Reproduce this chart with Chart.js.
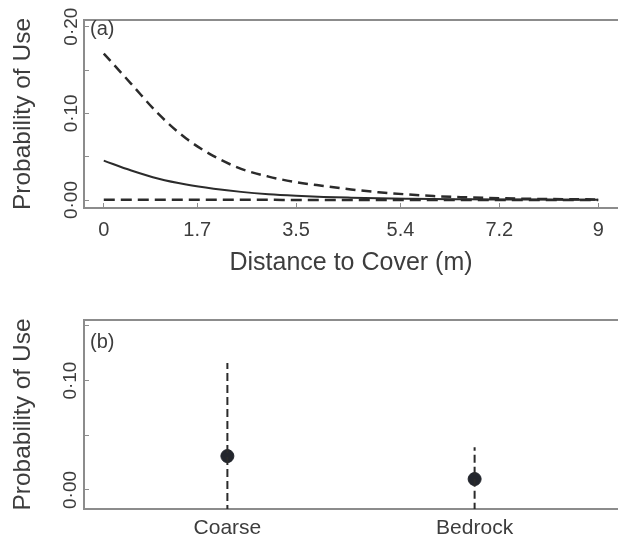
<!DOCTYPE html>
<html>
<head>
<meta charset="utf-8">
<script src="https://cdn.jsdelivr.net/npm/chart.js@4"></script>
<style>
  body { margin: 0; background: #fff; }
  #wrap { position: relative; width: 618px; height: 539px; }
  #painelA { position: absolute; left: 0; top: 0; }
  #painelB { position: absolute; left: 0; top: 290px; }
</style>
</head>
<body>
<div id="wrap">
  <canvas id="painelA" width="618" height="290"></canvas>
  <canvas id="painelB" width="618" height="249"></canvas>
</div>
<script>
// panel (a): probability of use vs distance to cover
const distance = [0, 0.5, 1, 1.5, 2, 2.5, 3, 3.5, 4, 4.5, 5, 5.5, 6, 6.5, 7, 7.5, 8, 8.5, 9];
const upperBand = [0.169, 0.134, 0.099, 0.071, 0.0507, 0.036, 0.027, 0.0206, 0.0162, 0.0122, 0.009, 0.0066, 0.0046, 0.0033, 0.0024, 0.0017, 0.0012, 0.0009, 0.0007];
const fitted = [0.0454, 0.034, 0.0245, 0.0178, 0.013, 0.0094, 0.0068, 0.005, 0.0036, 0.0027, 0.002, 0.0015, 0.0011, 0.0009, 0.0007, 0.0006, 0.0005, 0.0004, 0.0004];
const lowerBand = [0.0004, 0.0004, 0.0003, 0.0003, 0.0002, 0.0002, 0.0002, 0.0001, 0.0001, 0.0001, 0.0001, 0.0001, 0.0001, 0.0001, 0.0001, 0.0001, 0.0001, 0.0001, 0.0001];
const distTicks = [0, 1.7, 3.5, 5.4, 7.2, 9];
const distTickLabels = ['0', '1.7', '3.5', '5.4', '7.2', '9'];
const probTicksA = [0, 0.05, 0.10, 0.15, 0.20];
const probLabelsA = ['0·00', '', '0·10', '', '0·20'];

// panel (b): probability of use by substrate
const substrates = ['Coarse', 'Bedrock'];
const substrateMean = [0.031, 0.010];
const substrateLower = [-0.054, -0.019];
const substrateUpper = [0.116, 0.039];
const probTicksB = [0, 0.05, 0.10, 0.15];
const probLabelsB = ['0·00', '', '0·10', ''];

const fonte = '"Liberation Sans", Arial, sans-serif';
const corTexto = '#3d3d3d';
const corEixo = '#8c8c8c';
const corLinha = '#2b2b2b';

const panelLabel = {
    id: 'panelLabel',
    afterDraw(chart, args, opts) {
        const { ctx, chartArea } = chart;
        ctx.save();
        ctx.font = '20px ' + fonte;
        ctx.fillStyle = corTexto;
        ctx.textBaseline = 'middle';
        ctx.fillText(opts.text, chartArea.left + 6, chartArea.top + opts.dy);
        ctx.restore();
    }
};

// no extra side padding for the labels, the plot box is fixed
function semPadding(s) {
    s.paddingLeft = 0;
    s.paddingRight = 0;
    s.paddingTop = 0;
    s.paddingBottom = 0;
}

function eixoY(ticks, labels, min, max, pad) {
    return {
        type: 'linear', position: 'left', min: min, max: max,
        afterFit: s => { s.width = 84; semPadding(s); },
        afterBuildTicks: s => { s.ticks = ticks.map(v => ({ value: v })); },
        border: { color: corEixo, width: 2 },
        grid: { drawOnChartArea: false, tickLength: -5, color: corEixo },
        ticks: {
            autoSkip: false, minRotation: 90, maxRotation: 90, crossAlign: 'center', padding: pad,
            color: corTexto, font: { family: fonte, size: 19 },
            callback: (v, i) => labels[i]
        },
        title: {
            display: true, text: 'Probability of Use', color: corTexto,
            font: { family: fonte, size: 24.5 }, padding: { top: 9 }
        }
    };
}

function eixoTopo(min, max) {
    return {
        type: 'linear', position: 'top', min: min, max: max,
        afterFit: s => { s.height = 0; semPadding(s); },
        border: { color: corEixo, width: 2 },
        grid: { drawOnChartArea: false, drawTicks: false },
        ticks: { display: false }
    };
}

new Chart(document.getElementById('painelA'), {
    type: 'line',
    data: {
        datasets: [
            { data: distance.map((d, i) => ({ x: d, y: upperBand[i] })), borderColor: corLinha, borderWidth: 2.5, borderDash: [10, 6] },
            { data: distance.map((d, i) => ({ x: d, y: fitted[i] })), borderColor: corLinha, borderWidth: 2 },
            { data: distance.map((d, i) => ({ x: d, y: lowerBand[i] })), borderColor: corLinha, borderWidth: 2.5, borderDash: [11, 6] }
        ]
    },
    options: {
        responsive: false,
        animation: false,
        layout: { autoPadding: false, padding: { top: 20, right: 0, bottom: 0, left: 0 } },
        elements: { point: { radius: 0 }, line: { cubicInterpolationMode: 'monotone', fill: false } },
        plugins: { legend: { display: false }, tooltip: { enabled: false }, panelLabel: { text: '(a)', dy: 9.5 } },
        scales: {
            x: {
                type: 'linear', position: 'bottom', min: -0.36, max: 9.36,
                afterFit: s => { s.height = 82; semPadding(s); },
                afterBuildTicks: s => { s.ticks = distTicks.map(v => ({ value: v })); },
                border: { color: corEixo, width: 2 },
                grid: { drawOnChartArea: false, tickLength: -5, color: corEixo },
                ticks: {
                    autoSkip: false, maxRotation: 0, padding: 15,
                    color: corTexto, font: { family: fonte, size: 20 },
                    callback: (v, i) => distTickLabels[i]
                },
                title: {
                    display: true, text: 'Distance to Cover (m)', color: corTexto,
                    font: { family: fonte, size: 25 }, padding: { bottom: 12 }
                }
            },
            xTopo: eixoTopo(-0.36, 9.36),
            y: eixoY(probTicksA, probLabelsA, -0.0092, 0.2077, -2)
        }
    },
    plugins: [panelLabel]
});

const barras = substrates.map((s, i) => ({
    type: 'line',
    data: [{ x: i + 1, y: substrateLower[i] }, { x: i + 1, y: substrateUpper[i] }],
    borderColor: corLinha, borderWidth: 2, borderDash: [8, 4], pointRadius: 0
}));

new Chart(document.getElementById('painelB'), {
    type: 'scatter',
    data: {
        datasets: barras.concat([{
            type: 'scatter',
            data: substrates.map((s, i) => ({ x: i + 1, y: substrateMean[i] })),
            backgroundColor: '#23262d', borderColor: '#23262d', borderWidth: 1, pointRadius: 6.5
        }])
    },
    options: {
        responsive: false,
        animation: false,
        layout: { autoPadding: false, padding: { top: 30, right: 0, bottom: 0, left: 0 } },
        plugins: { legend: { display: false }, tooltip: { enabled: false }, panelLabel: { text: '(b)', dy: 22.5 } },
        scales: {
            x: {
                type: 'linear', position: 'bottom', min: 0.42, max: 2.58,
                afterFit: s => { s.height = 30; semPadding(s); },
                afterBuildTicks: s => { s.ticks = substrates.map((c, i) => ({ value: i + 1 })); },
                border: { color: corEixo, width: 2 },
                grid: { drawOnChartArea: false, drawTicks: false },
                ticks: {
                    autoSkip: false, maxRotation: 0, padding: 7,
                    color: corTexto, font: { family: fonte, size: 21 },
                    callback: (v, i) => substrates[i]
                }
            },
            xTopo: eixoTopo(0.42, 2.58),
            y: eixoY(probTicksB, probLabelsB, -0.0174, 0.1554, -1)
        }
    },
    plugins: [panelLabel]
});
</script>
</body>
</html>
